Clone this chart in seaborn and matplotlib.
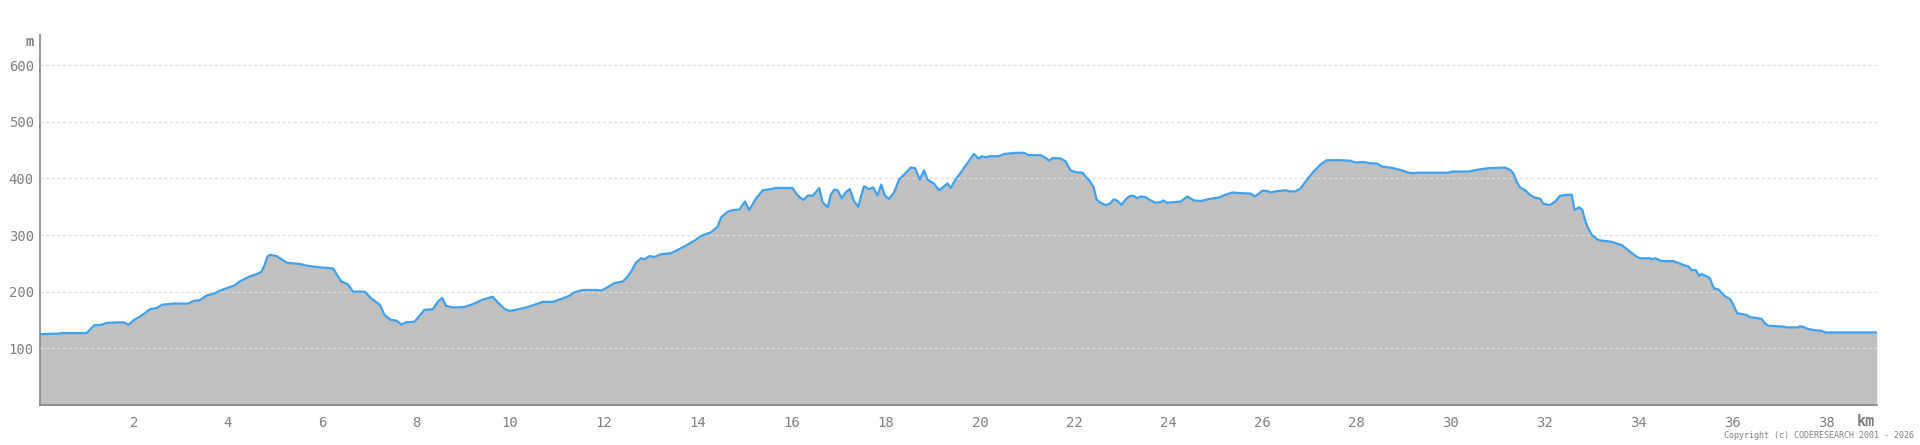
"""
Perfil de elevación de la ruta (km vs m)
"""

import matplotlib
matplotlib.use("Agg")
import matplotlib.pyplot as plt
import seaborn as sns
import pandas as pd

km = [
    0.00, 0.42, 0.46, 0.99, 1.16, 1.28, 1.42, 1.77, 1.89, 2.00, 2.13, 2.34, 2.48, 2.60,
    2.84, 3.15, 3.28, 3.40, 3.54, 3.72, 3.83, 3.97, 4.14, 4.25, 4.39, 4.50, 4.61, 4.71,
    4.78, 4.84, 4.89, 5.03, 5.14, 5.26, 5.38, 5.53, 5.67, 5.95, 6.24, 6.31, 6.41, 6.55,
    6.66, 6.91, 7.05, 7.23, 7.33, 7.47, 7.58, 7.69, 7.79, 7.97, 8.08, 8.18, 8.36, 8.47,
    8.56, 8.64, 8.79, 9.03, 9.21, 9.42, 9.63, 9.74, 9.88, 9.99, 10.13, 10.34, 10.49,
    10.70, 10.91, 11.12, 11.27, 11.37, 11.55, 11.83, 11.94, 12.04, 12.22, 12.40, 12.50,
    12.58, 12.68, 12.79, 12.86, 12.97, 13.07, 13.21, 13.43, 13.60, 13.78, 13.96, 14.06,
    14.28, 14.42, 14.49, 14.63, 14.74, 14.88, 15.00, 15.09, 15.23, 15.38, 15.55, 15.66,
    16.01, 16.12, 16.24, 16.35, 16.44, 16.58, 16.65, 16.76, 16.83, 16.90, 16.97, 17.06,
    17.15, 17.23, 17.32, 17.41, 17.53, 17.64, 17.73, 17.82, 17.90, 17.98, 18.07, 18.17,
    18.28, 18.39, 18.53, 18.62, 18.72, 18.81, 18.88, 19.02, 19.13, 19.31, 19.38, 19.48,
    19.59, 19.77, 19.87, 19.97, 20.05, 20.12, 20.19, 20.40, 20.51, 20.76, 20.94, 21.03,
    21.29, 21.40, 21.47, 21.55, 21.72, 21.82, 21.93, 22.03, 22.18, 22.25, 22.33, 22.42,
    22.48, 22.56, 22.67, 22.76, 22.85, 22.93, 23.01, 23.10, 23.19, 23.27, 23.35, 23.42,
    23.52, 23.63, 23.74, 23.84, 23.90, 23.98, 24.13, 24.27, 24.41, 24.55, 24.70, 24.90,
    25.08, 25.22, 25.37, 25.54, 25.76, 25.85, 25.95, 26.00, 26.11, 26.18, 26.29, 26.39,
    26.50, 26.60, 26.71, 26.82, 26.96, 27.10, 27.24, 27.38, 27.67, 27.88, 27.99, 28.16,
    28.27, 28.45, 28.55, 28.80, 28.98, 29.12, 29.23, 29.30, 29.97, 30.04, 30.40, 30.57,
    30.82, 31.17, 31.28, 31.35, 31.42, 31.49, 31.60, 31.70, 31.81, 31.92, 31.99, 32.13,
    32.24, 32.34, 32.49, 32.59, 32.65, 32.75, 32.82, 32.87, 32.93, 33.02, 33.16, 33.44,
    33.66, 33.78, 33.97, 34.04, 34.26, 34.29, 34.37, 34.50, 34.75, 34.85, 35.00, 35.07,
    35.14, 35.23, 35.30, 35.35, 35.44, 35.53, 35.56, 35.62, 35.71, 35.85, 35.96, 36.03,
    36.11, 36.31, 36.38, 36.49, 36.63, 36.70, 36.77, 37.13, 37.16, 37.41, 37.44, 37.51,
    37.62, 37.76, 37.90, 37.99, 39.08,
]
altitud = [
    125, 126, 127, 127, 141, 141, 145, 146, 142, 150, 156, 169, 171, 177,
    179, 179, 184, 185, 193, 197, 202, 206, 211, 218, 224, 228, 231, 235,
    247, 262, 265, 263, 257, 251, 250, 249, 246, 243, 241, 231, 218, 213,
    200, 200, 188, 177, 159, 150, 149, 142, 146, 147, 158, 168, 169, 183,
    189, 175, 172, 173, 178, 186, 191, 181, 170, 166, 168, 172, 176,
    182, 182, 188, 193, 199, 203, 203, 202, 206, 215, 218, 226,
    236, 251, 259, 257, 263, 261, 266, 268, 275, 283, 292, 298,
    305, 315, 331, 341, 344, 345, 359, 344, 364, 379, 381, 383,
    383, 370, 362, 370, 369, 383, 358, 349, 372, 380, 379, 365,
    376, 381, 360, 350, 386, 381, 384, 370, 389, 369, 364, 375,
    398, 407, 419, 418, 398, 414, 398, 391, 379, 391, 383, 398,
    410, 431, 443, 435, 439, 437, 439, 439, 443, 445, 445, 441,
    441, 436, 431, 436, 435, 430, 414, 411, 410, 403, 396, 384,
    363, 357, 353, 355, 363, 360, 353, 363, 369, 369, 365, 368,
    367, 361, 357, 358, 361, 357, 358, 359, 368, 361, 360, 364,
    366, 371, 375, 374, 373, 368, 374, 378, 378, 375, 377, 378,
    379, 377, 377, 382, 398, 412, 424, 432, 432, 431, 428, 429,
    427, 426, 421, 418, 414, 410, 409, 410, 410, 412, 412, 415,
    418, 419, 415, 409, 394, 384, 379, 371, 366, 364, 355, 353,
    359, 369, 371, 371, 344, 349, 344, 327, 314, 300, 291, 288,
    282, 274, 262, 259, 259, 257, 259, 254, 254, 251, 246, 245,
    238, 238, 228, 231, 228, 224, 217, 206, 204, 192, 187, 177,
    162, 159, 155, 154, 152, 144, 140, 138, 137, 137, 139, 138,
    134, 132, 131, 128, 128,
]

x_ticks = list(range(0, 39, 2))
x_labels = [""] + [str(v) for v in x_ticks[1:]]
y_ticks = list(range(0, 700, 100))
y_labels = [""] + [str(v) for v in y_ticks[1:]]

GRIS = "#808080"
AZUL = "#3ca2f0"
RELLENO = "#c0c0c0"

sns.set_style("white")
plt.rcParams["font.family"] = ["DejaVu Sans Mono"]

df = pd.DataFrame({"km": km, "m": altitud})

fig = plt.figure(figsize=(19.2, 4.45), dpi=100)
ax = fig.add_axes([40 / 1920, 40 / 445, 1836.7 / 1920, 370 / 445])

ax.fill_between(df["km"], df["m"], 0, color=RELLENO, linewidth=0, zorder=1)
sns.lineplot(data=df, x="km", y="m", ax=ax, color=AZUL, linewidth=1.6, zorder=3)

ax.set_xlim(0, 39.08)
ax.set_ylim(0, 653)
ax.set_xticks(x_ticks)
ax.set_xticklabels(x_labels)
ax.set_yticks(y_ticks)
ax.set_yticklabels(y_labels)
ax.set_xlabel("")
ax.set_ylabel("")

ax.set_axisbelow(False)
ax.yaxis.grid(True, color="#dddddd", linestyle=(0, (2.5, 2)), linewidth=0.9)
ax.xaxis.grid(False)

for lado in ["top", "right"]:
    ax.spines[lado].set_visible(False)
for lado in ["left", "bottom"]:
    ax.spines[lado].set_color(GRIS)
    ax.spines[lado].set_linewidth(1.2)

ax.tick_params(axis="both", colors=GRIS, labelcolor=GRIS, labelsize=10,
               length=3, width=1)
ax.tick_params(axis="y", pad=1.5)
ax.tick_params(axis="x", pad=5)

fig.text(30 / 1920, 1 - 41.7 / 445, "m", color=GRIS, fontsize=10,
         fontweight="bold", ha="center", va="center")
fig.text(1866 / 1920, 1 - 421.7 / 445, "km", color=GRIS, fontsize=11,
         fontweight="bold", ha="center", va="center")
fig.text(1914 / 1920, 1 - 436 / 445, "Copyright (c) CODERESEARCH 2001 - 2026",
         color=GRIS, fontsize=6, ha="right", va="center")

fig.savefig("out.png", dpi=100)
plt.close(fig)
